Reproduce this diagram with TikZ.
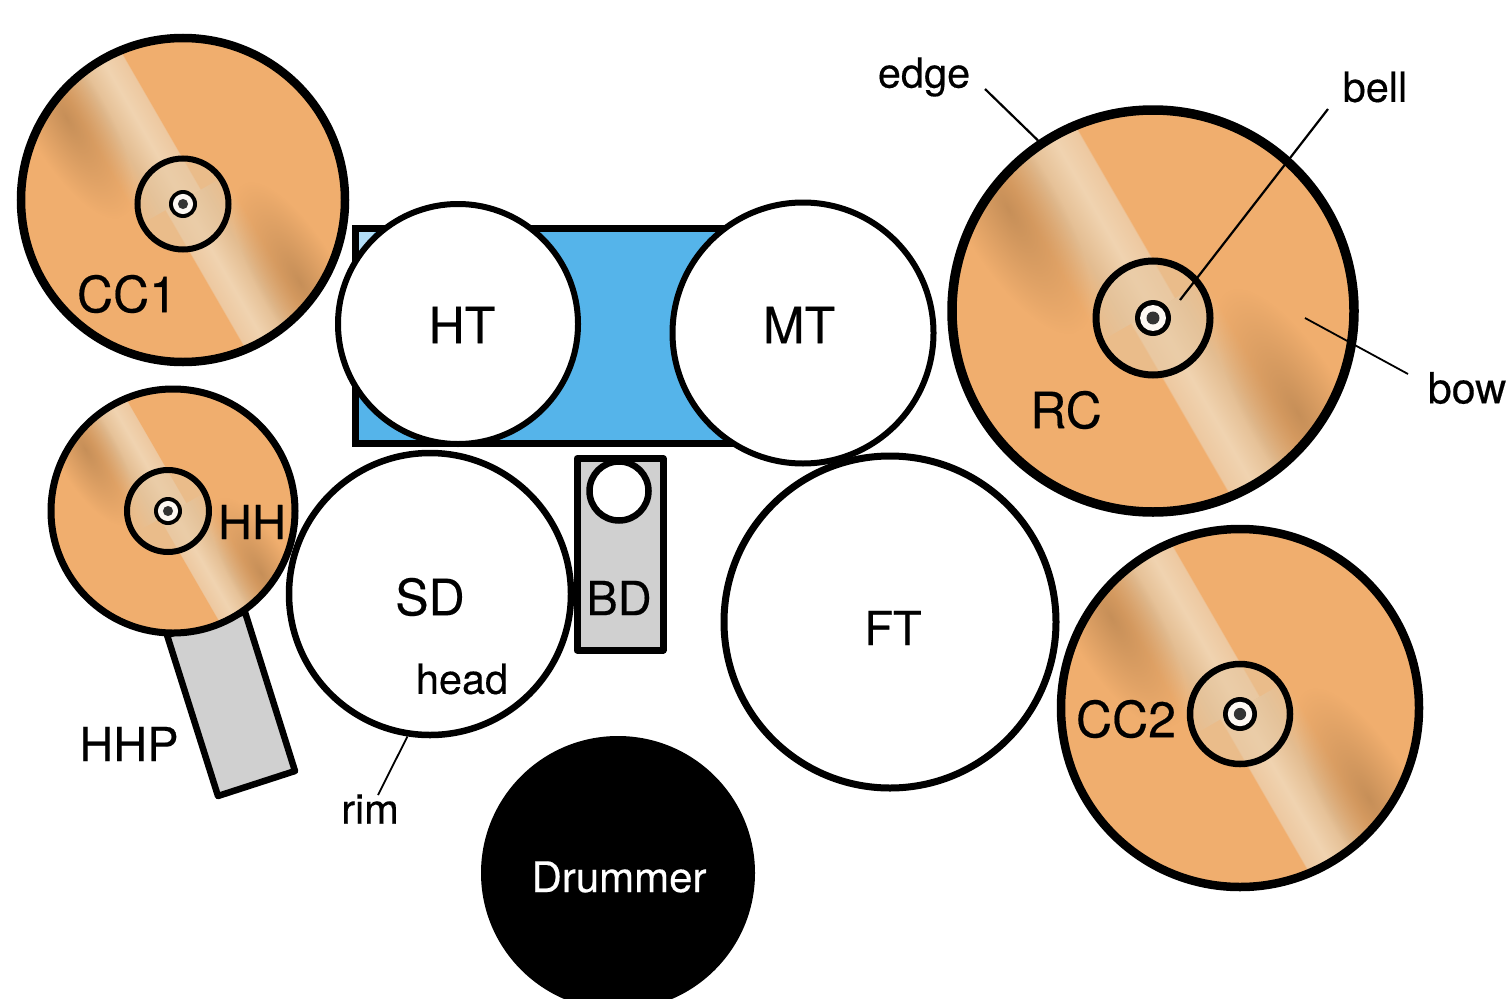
\documentclass[tikz,border=0pt]{standalone}
\usepackage{fontspec}
\usetikzlibrary{fadings}
\setmainfont[FakeBold=0.35]{TeX Gyre Heros}
\definecolor{cymorange}{HTML}{F0AE6E}
\definecolor{cymdark}{HTML}{B5824F}
\definecolor{cymmid}{HTML}{E3BC90}
\definecolor{cymlight}{HTML}{F0D3B0}
\definecolor{cymlight2}{HTML}{EDC8A0}
\definecolor{cymbell}{HTML}{E6C8A2}
\definecolor{tomblue}{HTML}{55B4EA}
\definecolor{pedalgrey}{HTML}{D0D0D0}
\pgfdeclarehorizontalshading{cymband}{100bp}{color(0bp)=(cymorange); color(25bp)=(cymorange); color(42bp)=(cymmid); color(60bp)=(cymlight); color(74bp)=(cymlight2); color(75bp)=(cymorange); color(100bp)=(cymorange)}
\tikzfading[name=cymblob, inner color=transparent!30, outer color=transparent!100]
\tikzset{
  drumshell/.style={circle,draw=black,line width=6pt,fill=white,inner sep=0pt},
  cymshell/.style={circle,draw=black,inner sep=0pt},
  lab/.style={inner sep=0pt,text=black},
  biglab/.style={lab,font=\fontsize{50}{50}\selectfont},
  midlab/.style={lab,font=\fontsize{47}{47}\selectfont},
  smalllab/.style={lab,font=\fontsize{41.5}{42}\selectfont},
  leader/.style={draw=black,line width=1.8pt},
  pedal/.style={draw=black,line width=6.5pt,line join=round,fill=pedalgrey},
}
% name, cx, cy, R(centre line), lw, bell x, bell y, bell r, bell lw
\newcommand{\cymbalshape}[9]{%
  \fill[cymorange] (#2,#3) circle [radius=#4 pt];
  \begin{scope}
    \clip (#2,#3) circle [radius=#4 pt];
    \pgfmathsetmacro{\bandL}{-0.30*#4}
    \pgfmathsetmacro{\bandR}{0.13*#4}
    \pgfmathsetmacro{\bandH}{-1.05*#4}
    \pgfmathsetmacro{\blobL}{-0.62*#4}
    \pgfmathsetmacro{\blobR}{-0.12*#4}
    \pgfmathsetmacro{\blobA}{-0.10*#4}
    \pgfmathsetmacro{\blobB}{-1.50*#4}
    \foreach \ang in {30,210}{
      \path[shade,shading=cymband,shading angle=0,
            transform canvas={shift={(#2,#3)},rotate=\ang}]
        (\bandL,0) rectangle (\bandR,\bandH);
      \fill[cymdark,path fading=cymblob,
            transform canvas={shift={(#2,#3)},rotate=\ang}]
        (\blobL,\blobA) rectangle (\blobR,\blobB);
    }
  \end{scope}
  \fill[cymbell,opacity=.55] (#6,#7) circle [radius=#8 pt];
  \draw[black,line width=#9 pt] (#6,#7) circle [radius=#8 pt];
  \node[cymshell,line width=#5 pt,minimum size=2*#4 pt] (#1) at (#2,#3) {};
}
\newcommand{\cymbalhub}[4]{%
  \fill[black] (#2,#3) circle [radius=#4 pt];
  \fill[white!85!cymlight] (#2,#3) circle [radius=0.72*#4 pt];
  \fill[black!80] (#2,#3) circle [radius=0.36*#4 pt];
  \coordinate (#1) at (#2,#3);
}
\begin{document}
\begin{tikzpicture}[x=1pt,y=-1pt]
\clip (0,0) rectangle (1509,998);
\fill[white] (0,0) rectangle (1509,998);

% tom rack
\draw[black,line width=7pt,fill=tomblue,line join=miter] (355.5,228.5) rectangle (735,443.5);
\fill[tomblue!45!white] (359,232) -- (375,232) -- (359,252) -- cycle;

% hi-hat pedal
\coordinate (pa) at (167,635);
\coordinate (pb) at (245,612);
\coordinate (pc) at (295,771);
\coordinate (pd) at (218,796);
\draw[pedal] (pa) -- (pb) -- (pc) -- (pd) -- cycle;

% kick pedal
\draw[black,line width=7pt,fill=pedalgrey,line join=round] (577,458.5) rectangle (663,650);
\node[drumshell,line width=6.5pt,minimum size=59pt] (BDc) at (619,491) {};

% drums
\node[drumshell,minimum size=240pt] (HT) at (458,324) {};
\node[drumshell,minimum size=261pt] (MT) at (803,333) {};
\node[drumshell,line width=6.5pt,minimum size=282pt] (SD) at (430,594) {};
\node[drumshell,line width=7pt,minimum size=332pt] (FT) at (890,622) {};

% cymbals
\cymbalshape{CC1}{183}{200}{162}{8.5}{183}{204}{45.5}{6}
\cymbalhub{hubCC}{183}{204}{14}
\cymbalshape{HH}{173}{511}{122}{7}{168}{511}{41}{6}
\cymbalhub{hubHH}{168}{511}{14}
\cymbalshape{RC}{1153}{311}{201}{9.5}{1153}{318}{57}{7}
\cymbalhub{hubRC}{1153}{318}{18}
\cymbalshape{CC2}{1240}{708}{179}{8.5}{1240}{714}{50}{6.5}
\cymbalhub{hubCCb}{1240}{714}{17}

% drummer
\node[circle,fill=black,inner sep=0pt,minimum size=274pt] (Dr) at (618,873) {};

% labels
\node[biglab] (lCC1) at (127,294) {CC1};
\node[biglab] (lHT) at (462,325) {HT};
\node[biglab] (lMT) at (799,325) {MT};
\node[midlab] (lHH) at (252,522) {HH};
\node[biglab] (lSD) at (430,597) {SD};
\node[midlab] (lBD) at (619,598) {BD};
\node[midlab] (lFT) at (893,628) {FT};
\node[biglab] (lRC) at (1066,410) {RC};
\node[biglab] (lCC2) at (1126,719) {CC2};
\node[midlab] (lHHP) at (129,744) {HHP};
\node[smalllab] (lhead) at (462,679) {head};
\node[smalllab] (lrim) at (370,809) {rim};
\node[smalllab] (ledge) at (924,77) {edge};
\node[smalllab] (lbell) at (1375,87) {bell};
\node[lab,font=\fontsize{43}{43}\selectfont] (lbow) at (1467,388) {bow};
\node[lab,text=white,font=\fontsize{42}{42}\selectfont] (lDr) at (619,877) {Drummer};

% leaders
\coordinate (rimEnd) at (378,795);
\coordinate (edgeEnd) at (985,89);
\coordinate (bellEnd) at (1328,109);
\coordinate (bellIn) at (1180,300);
\coordinate (bowIn) at (1305,318);
\coordinate (bowEnd) at (1408,374);
\draw[leader] (SD.-99) -- (rimEnd);
\draw[leader,line width=2.2pt] (RC.124) -- (edgeEnd);
\draw[leader,line width=2.2pt] (bellIn) -- (bellEnd);
\draw[leader] (bowIn) -- (bowEnd);
\end{tikzpicture}
\end{document}
